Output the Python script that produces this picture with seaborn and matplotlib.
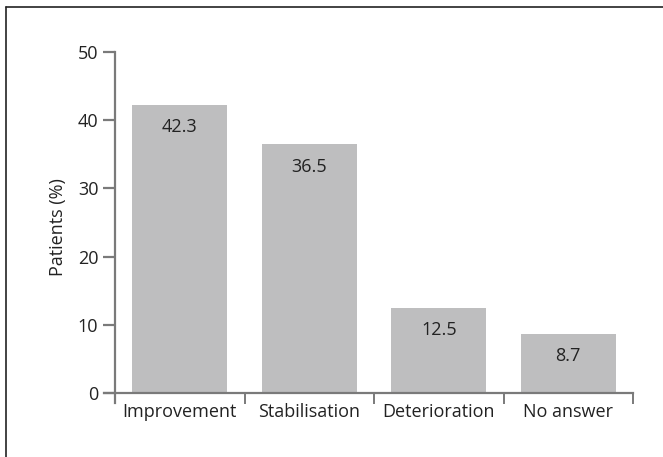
import matplotlib
matplotlib.use("Agg")
import matplotlib.pyplot as plt
import seaborn as sns
import pandas as pd
from matplotlib.lines import Line2D

categories = ["Improvement", "Stabilisation", "Deterioration", "No answer"]
values = [42.3, 36.5, 12.5, 8.7]
value_labels = ["42.3", "36.5", "12.5", "8.7"]
y_ticks = [0, 10, 20, 30, 40, 50]
y_label = "Patients (%)"

sns.set_theme(style="white")
plt.rcParams["font.family"] = ["Open Sans", "DejaVu Sans"]

W, H = 663, 457
FS = 13
fig = plt.figure(figsize=(W / 100, H / 100), dpi=100)
ax = fig.add_axes([104 / W, 1 - 403 / H, (633 - 104) / W, (403 - 52) / H])

df = pd.DataFrame({"cat": categories, "val": values})
sns.barplot(data=df, x="cat", y="val", color="#bebebf", saturation=1,
            width=0.73, ax=ax, edgecolor="none")

ax.set_xlim(-0.5 - 11 / 129.5, 3.5)
ax.set_ylim(-10 / 6.82, 50)

axis_col = "#7a7a7a"
for s in ["top", "right"]:
    ax.spines[s].set_visible(False)
ax.spines["left"].set_position(("data", -0.5))
ax.spines["bottom"].set_position(("data", 0))
for s in ["left", "bottom"]:
    ax.spines[s].set_color(axis_col)
    ax.spines[s].set_linewidth(1.6)

ax.set_yticks(y_ticks)
ax.set_yticklabels([str(t) for t in y_ticks], fontsize=FS, color="#222222")
ax.tick_params(axis="y", direction="out", length=9, width=1.6, color=axis_col, pad=3, left=True)

ax.set_xticks(range(len(categories)))
ax.set_xticklabels(categories, fontsize=FS, color="#222222")
ax.tick_params(axis="x", which="major", length=0, pad=7)
ax.set_xticks([i - 0.5 for i in range(len(categories) + 1)], minor=True)
ax.tick_params(axis="x", which="minor", direction="out", length=8, width=1.4,
               color=axis_col, bottom=True)

ax.set_xlabel("")
ax.set_ylabel(y_label, fontsize=FS, color="#222222", labelpad=8)

for i, (v, lab) in enumerate(zip(values, value_labels)):
    ax.text(i, v - 2.0, lab, ha="center", va="top", fontsize=FS, color="#222222")

fig.add_artist(Line2D([6 / W, 6 / W], [0, 1 - 7 / H], transform=fig.transFigure,
                      color="#222222", linewidth=1.2))
fig.add_artist(Line2D([6 / W, 1], [1 - 7 / H, 1 - 7 / H], transform=fig.transFigure,
                      color="#222222", linewidth=1.2))

fig.savefig("out.png", dpi=100)
